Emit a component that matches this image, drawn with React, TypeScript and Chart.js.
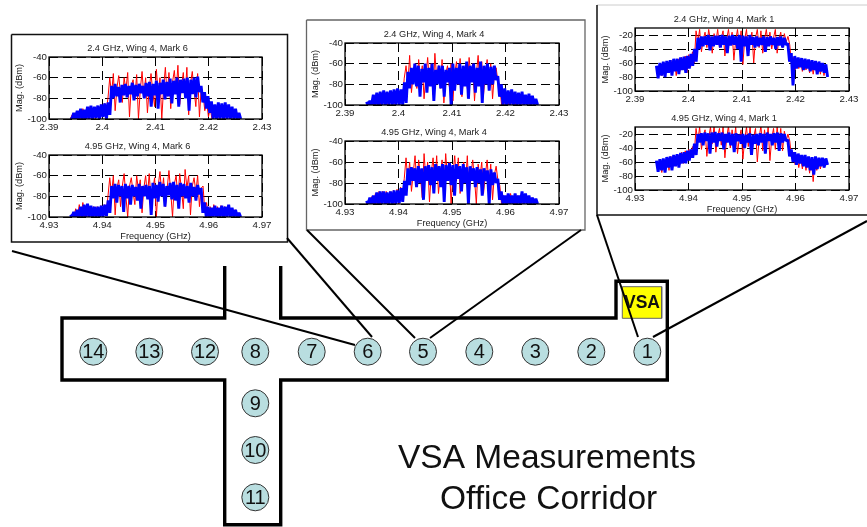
import React, { useEffect, useRef } from "react";
import { Chart, registerables } from "chart.js";

Chart.register(...registerables);

const FONT = "'Liberation Sans', Arial, sans-serif";

const ticks24 = [2.39, 2.4, 2.41, 2.42, 2.43];
const ticks495 = [4.93, 4.94, 4.95, 4.96, 4.97];
const magTicks = [-100, -80, -60, -40];
const magTicksHigh = [-100, -80, -60, -40, -20];

const blueM6a = [-99,-100,-94,-100,-92,-100,-90,-100,-91,-100,-88,-100,-87,-100,-88,-99,-87,-100,-86,-98,-85,-100,-84,-96,
-68,-80,-66,-78,-69,-84,-67,-77,-66,-79,-68,-76,-65,-82,-67,-78,-66,-75,-68,-80,-65,-78,-64,-88,-66,-77,-63,-90,-65,-76,-62,-81,-64,-78,-61,-85,-63,-76,-60,-88,-62,-75,-61,-80,-60,-92,-62,-76,-60,-79,-59,-74,
-68,-84,-74,-90,-78,-94,-83,-100,-86,-100,-84,-100,-85,-100,-84,-100,-86,-100,-88,-100,-90,-100,-94,-100];
const redM6a = [-100,-96,-100,-94,-100,-92,-100,-90,-100,-90,-100,-88,-100,-89,-100,-88,-98,-86,-96,-85,-92,-80,
-60,-76,-56,-92,-70,-58,-76,-84,-60,-72,-55,-98,-68,-62,-80,-57,-100,-72,-54,-78,-60,-94,-70,-56,-74,-88,-52,-76,-60,-100,-70,-50,-78,-55,-90,-64,-53,-74,-48,-86,-68,-55,-78,-50,-96,-66,-54,-72,-88,-56,-98,-70,
-76,-92,-82,-98,-90,-100,-92,-100,-90,-100,-92,-100,-92,-100,-94,-100,-94,-100,-96,-100,-98,-100];
const blueM6b = [-98,-100,-95,-100,-93,-100,-90,-100,-88,-100,-87,-100,-89,-100,-90,-100,-90,-100,-89,-100,-88,-99,-84,-96,
-70,-82,-68,-86,-69,-80,-70,-95,-68,-82,-70,-88,-69,-80,-71,-84,-68,-92,-70,-80,-69,-83,-70,-98,-67,-82,-69,-85,-66,-80,-68,-90,-70,-79,-67,-83,-66,-84,-69,-92,-67,-80,-68,-82,-70,-86,-67,-80,-71,-84,-69,-78,
-72,-96,-86,-100,-90,-100,-91,-100,-89,-100,-91,-100,-89,-100,-90,-100,-88,-100,-91,-100,-93,-100,-96,-100];
const redM6b = [-100,-97,-100,-92,-100,-88,-100,-86,-100,-89,-100,-90,-100,-90,-100,-90,-100,-89,-100,-88,-96,-80,
-62,-78,-60,-98,-72,-64,-90,-70,-58,-80,-100,-70,-62,-76,-88,-60,-74,-64,-96,-72,-60,-80,-58,-84,-74,-62,-100,-70,-56,-78,-62,-90,-72,-55,-76,-100,-68,-60,-82,-58,-74,-92,-54,-72,-60,-98,-70,-62,-76,-60,-90,-72,
-70,-94,-86,-100,-90,-100,-88,-100,-90,-100,-89,-100,-90,-100,-90,-100,-92,-100,-93,-100,-96,-100];
const blueM4a = [-97,-100,-96,-100,-90,-100,-88,-100,-87,-100,-86,-100,-87,-100,-86,-100,-85,-100,-84,-100,-85,-100,-78,-98,
-68,-84,-64,-80,-60,-82,-62,-92,-65,-78,-60,-88,-64,-82,-60,-96,-66,-80,-62,-84,-62,-92,-66,-78,-64,-100,-60,-86,-64,-80,-60,-90,-62,-82,-58,-94,-62,-78,-60,-88,-64,-82,-58,-98,-62,-80,-60,-86,-63,-80,-62,-76,
-72,-92,-80,-100,-84,-100,-86,-100,-85,-100,-87,-100,-88,-100,-87,-100,-90,-100,-89,-100,-91,-100,-94,-100];
const redM4a = [-100,-100,-100,-96,-100,-92,-100,-90,-100,-90,-100,-88,-100,-90,-100,-90,-100,-88,-100,-87,-96,-74,
-62,-80,-52,-88,-70,-60,-84,-56,-76,-62,-94,-72,-54,-80,-60,-90,-50,-74,-62,-84,-56,-98,-70,-62,-82,-60,-96,-70,-58,-80,-55,-92,-72,-62,-84,-54,-74,-60,-96,-70,-52,-80,-58,-90,-70,-56,-82,-60,-94,-70,-64,-78,
-80,-100,-86,-100,-90,-100,-90,-100,-92,-100,-90,-100,-92,-100,-92,-100,-94,-100,-94,-100,-96,-100];
const blueM4b = [-97,-100,-94,-100,-92,-100,-89,-100,-88,-100,-88,-100,-89,-100,-88,-100,-87,-100,-87,-99,-85,-98,-78,-92,
-66,-82,-65,-78,-66,-84,-64,-80,-66,-96,-64,-78,-63,-82,-65,-90,-62,-78,-64,-84,-62,-98,-63,-78,-61,-82,-63,-92,-62,-76,-64,-88,-62,-80,-65,-100,-64,-78,-66,-84,-65,-80,-67,-92,-66,-78,-68,-100,-67,-82,-70,-80,
-76,-96,-88,-100,-92,-100,-90,-100,-92,-100,-90,-100,-92,-100,-88,-100,-90,-100,-92,-100,-94,-100,-95,-100];
const redM4b = [-100,-98,-100,-93,-100,-90,-100,-88,-100,-88,-100,-88,-100,-88,-100,-87,-100,-86,-100,-84,-92,-76,
-56,-78,-60,-88,-70,-54,-82,-58,-74,-94,-52,-76,-60,-98,-70,-56,-80,-54,-90,-72,-58,-84,-52,-76,-60,-100,-72,-54,-78,-56,-90,-68,-60,-80,-54,-92,-72,-58,-76,-100,-62,-74,-60,-90,-72,-58,-82,-62,-96,-72,-64,-78,
-82,-100,-92,-100,-92,-100,-90,-100,-92,-100,-92,-100,-90,-100,-92,-100,-94,-100,-94,-100,-96,-100];
const blueM1a = [-64,-82,-60,-78,-58,-80,-57,-74,-56,-78,-54,-72,-54,-76,-52,-70,-51,-74,-50,-68,-47,-64,-40,-58,
-24,-40,-22,-36,-22,-34,-20,-42,-22,-36,-21,-34,-21,-38,-20,-34,-22,-46,-21,-35,-20,-34,-22,-40,-20,-58,-21,-36,-22,-50,-20,-34,-23,-38,-22,-36,-24,-34,-22,-44,-23,-36,-22,-34,-24,-40,-23,-35,-22,-38,-24,-34,
-32,-58,-46,-92,-50,-68,-52,-66,-53,-70,-54,-68,-55,-72,-56,-70,-57,-76,-58,-72,-60,-74,-62,-80];
const redM1a = [-66,-80,-62,-78,-60,-76,-58,-74,-56,-74,-56,-78,-54,-72,-52,-70,-50,-74,-48,-66,-44,-60,
-14,-30,-12,-44,-26,-16,-38,-12,-28,-46,-18,-30,-12,-38,-24,-14,-50,-26,-12,-34,-16,-56,-28,-12,-36,-14,-62,-26,-12,-44,-28,-16,-60,-24,-12,-38,-14,-46,-26,-12,-34,-16,-40,-24,-12,-46,-26,-16,-38,-18,-30,-22,
-34,-62,-52,-70,-56,-68,-56,-72,-58,-70,-58,-74,-58,-76,-60,-74,-60,-76,-62,-78,-64,-80];
const blueM1b = [-58,-74,-56,-72,-55,-75,-53,-68,-52,-72,-50,-66,-49,-68,-47,-62,-46,-62,-44,-58,-42,-54,-34,-50,
-20,-32,-19,-36,-18,-30,-19,-48,-18,-32,-17,-38,-19,-30,-18,-42,-20,-32,-18,-36,-20,-46,-19,-30,-21,-34,-20,-40,-21,-32,-19,-50,-21,-34,-20,-36,-19,-32,-20,-48,-18,-30,-20,-36,-19,-32,-18,-44,-19,-32,-20,-30,
-28,-52,-42,-60,-46,-64,-48,-62,-50,-66,-50,-68,-52,-72,-53,-78,-52,-70,-54,-66,-54,-68,-55,-64];
const redM1b = [-60,-72,-58,-75,-56,-74,-54,-72,-52,-68,-50,-66,-50,-64,-46,-62,-44,-58,-42,-54,-38,-48,
-12,-30,-10,-42,-24,-14,-52,-26,-10,-34,-8,-46,-24,-12,-36,-10,-54,-26,-8,-40,-14,-34,-10,-48,-26,-14,-56,-28,-10,-38,-8,-50,-24,-12,-60,-26,-8,-44,-14,-36,-10,-58,-26,-12,-42,-10,-36,-12,-44,-16,-30,-20,
-30,-54,-46,-64,-50,-68,-52,-70,-52,-72,-54,-76,-56,-88,-56,-72,-56,-70,-56,-68,-58,-64];

const wallPoints = [[224.7,266],[224.7,318],[62,318],[62,380],[224.7,380],[224.7,524.7],[280.7,524.7],[280.7,380],[667.3,380],[667.3,281.3],[616,281.3],[616,318],[280.7,318],[280.7,266]];
const leaderLines = [
  [[12,251],[355,345]],
  [[287,238],[372,337]],
  [[307,230],[415,338]],
  [[581,230],[430,338]],
  [[597,215],[638,337]],
  [[867,221],[653,337]],
];
const panelDark = [
  [[11.5,34.5],[287.5,34.5],[287.5,242],[11.5,242],[11.5,34.5]],
  [[597,5],[597,215],[880,215]],
];
const panelGrey = [
  [[306.5,20],[585,20],[585,230],[306.5,230],[306.5,20]],
];
const panelFaint = [[[597,5],[880,5]]];
const markerLabels = ["14","13","12","8","7","6","5","4","3","2","1","9","10","11"];
const markerX = [93.3,149.3,205,255.3,311.7,367.7,423,479.3,535.3,591.3,647.3,255.3,255.3,255.3];
const markerY = [351.7,351.7,351.7,351.7,351.7,351.7,351.7,351.7,351.7,351.7,351.7,403.3,450,497.3];
const vsaBox = [[622.3,286.7],[661.7,286.7],[661.7,318.3],[622.3,318.3],[622.3,286.7]];

const toXY = (pts: number[][]) => pts.map(([x, y]) => ({ x, y }));

function FloorPlan() {
  const ref = useRef<HTMLCanvasElement>(null);
  useEffect(() => {
    const labelPlugin = {
      id: "labels",
      afterDatasetsDraw(c: any) {
        const { ctx, scales } = c;
        const px = (v: number) => scales.x.getPixelForValue(v);
        const py = (v: number) => scales.y.getPixelForValue(v);
        ctx.save();
        ctx.fillStyle = "#111";
        ctx.textAlign = "center";
        ctx.textBaseline = "middle";
        ctx.font = `20px ${FONT}`;
        markerLabels.forEach((t, i) => ctx.fillText(t, px(markerX[i]), py(markerY[i]) + 1));
        ctx.font = `bold 17.5px ${FONT}`;
        ctx.fillText("VSA", px(642), py(303));
        ctx.textBaseline = "alphabetic";
        ctx.textAlign = "left";
        ctx.font = `33.5px ${FONT}`;
        ctx.fillText("VSA Measurements", px(398), py(468));
        ctx.fillText("Office Corridor", px(440), py(509));
        ctx.restore();
      },
    };
    const line = (pts: number[][], color: string, w: number, fill?: string) => ({
      type: "line", data: toXY(pts), borderColor: color, borderWidth: w, pointRadius: 0,
      tension: 0, fill: fill ? "shape" : false, backgroundColor: fill || "transparent", borderJoinStyle: "miter",
    });
    const chart = new Chart(ref.current!, {
      type: "line",
      data: {
        datasets: [
          ...leaderLines.map((l) => line(l, "#000", 2)),
          ...panelDark.map((b) => line(b, "#111", 1.5)),
          ...panelGrey.map((b) => line(b, "#666", 1.3)),
          ...panelFaint.map((b) => line(b, "#ccc", 1)),
          line(wallPoints, "#000", 3.4),
          line(vsaBox, "#666", 1, "#ffff00"),
          {
            type: "scatter",
            data: markerX.map((x, i) => ({ x, y: markerY[i] })),
            pointRadius: 13.5, pointBackgroundColor: "#b9dee0", pointBorderColor: "#333", pointBorderWidth: 1,
            showLine: false,
          },
        ] as any,
      },
      options: {
        responsive: false, animation: false, events: [],
        layout: { padding: 0, autoPadding: false },
        plugins: { legend: { display: false }, title: { display: false }, tooltip: { enabled: false } },
        scales: {
          x: { type: "linear", display: false, min: 0, max: 867 },
          y: { type: "linear", display: false, min: 0, max: 527, reverse: true },
        },
      },
      plugins: [labelPlugin],
    } as any);
    return () => chart.destroy();
  }, []);
  return <canvas ref={ref} width={867} height={527} style={{ position: "absolute", left: 0, top: 0, width: 867, height: 527 }} />;
}

type SpecProps = {
  title: string; blue: number[]; red: number[]; start: number; xTicks: number[]; yTicks: number[]; yMax: number;
  left: number; top: number; w: number; h: number; xTitle?: boolean;
};

function Spectrum({ title, blue, red, start, xTicks, yTicks, yMax, left, top, w, h, xTitle }: SpecProps) {
  const ref = useRef<HTMLCanvasElement>(null);
  const mL = 36, mT = 15, mR = 14, mB = xTitle ? 26 : 14;
  useEffect(() => {
    const series = (vals: number[]) => vals.map((y, i) => ({ x: start + (0.032 * i) / (vals.length - 1), y }));
    const boxPlugin = {
      id: "box",
      afterDatasetsDraw(c: any) {
        const { ctx, chartArea: a } = c;
        ctx.save();
        ctx.strokeStyle = "#000";
        ctx.lineWidth = 1.3;
        ctx.strokeRect(a.left, a.top, a.right - a.left, a.bottom - a.top);
        ctx.restore();
      },
    };
    const tickFont = { family: FONT, size: 9.7 };
    const titleFont = { family: FONT, size: 9.2, weight: "normal", lineHeight: "10px" };
    const chart = new Chart(ref.current!, {
      type: "line",
      data: {
        datasets: [
          { data: series(blue), borderColor: "#0000ff", borderWidth: 2.9, pointRadius: 0, tension: 0, borderJoinStyle: "bevel" },
          { data: series(red), borderColor: "#ff0000", borderWidth: 1, pointRadius: 0, tension: 0, borderJoinStyle: "bevel" },
        ],
      },
      options: {
        responsive: false, animation: false, events: [],
        layout: { padding: { right: mR, left: 0, top: 0, bottom: 0 }, autoPadding: false },
        plugins: {
          legend: { display: false }, tooltip: { enabled: false },
          title: { display: true, text: title, color: "#222", font: titleFont, padding: { top: 1, bottom: 4 } },
        },
        scales: {
          x: {
            type: "linear", min: xTicks[0], max: xTicks[xTicks.length - 1],
            afterBuildTicks: (s: any) => { s.ticks = xTicks.map((value) => ({ value })); },
            afterFit: (s: any) => { s.height = mB; },
            grid: { color: "#000", lineWidth: 1, drawTicks: false },
            border: { display: false, dash: [9, 5] },
            ticks: { autoSkip: false, maxRotation: 0, padding: 3, color: "#222", font: tickFont, callback: (v: any) => String(+Number(v).toFixed(2)) },
            title: { display: !!xTitle, text: "Frequency (GHz)", color: "#222", font: titleFont, padding: { top: 0, bottom: 2 } },
          },
          y: {
            type: "linear", min: -100, max: yMax,
            afterBuildTicks: (s: any) => { s.ticks = yTicks.map((value) => ({ value })); },
            afterFit: (s: any) => { s.width = mL; },
            grid: { color: "#000", lineWidth: 1, drawTicks: false },
            border: { display: false, dash: [9, 5] },
            ticks: { autoSkip: false, padding: 2, color: "#222", font: tickFont },
            title: { display: true, text: "Mag. (dBm)", color: "#222", font: titleFont, padding: { top: 1, bottom: 0 } },
          },
        },
      },
      plugins: [boxPlugin],
    } as any);
    return () => chart.destroy();
  }, []);
  const cw = w + mL + mR, ch = h + mT + mB;
  return <canvas ref={ref} width={cw} height={ch} style={{ position: "absolute", left: left - mL, top: top - mT, width: cw, height: ch }} />;
}

export default function App() {
  return (
    <div style={{ position: "fixed", left: 0, top: 0, width: 867, height: 527, overflow: "hidden", background: "#fff" }}>
      <FloorPlan />
      <Spectrum title="2.4 GHz, Wing 4, Mark 6" blue={blueM6a} red={redM6a} start={2.394} xTicks={ticks24} yTicks={magTicks} yMax={-40} left={49} top={57} w={213} h={62} />
      <Spectrum title="4.95 GHz, Wing 4, Mark 6" blue={blueM6b} red={redM6b} start={4.934} xTicks={ticks495} yTicks={magTicks} yMax={-40} left={49} top={155} w={213} h={62} xTitle />
      <Spectrum title="2.4 GHz, Wing 4, Mark 4" blue={blueM4a} red={redM4a} start={2.394} xTicks={ticks24} yTicks={magTicks} yMax={-40} left={345} top={43} w={214} h={62} />
      <Spectrum title="4.95 GHz, Wing 4, Mark 4" blue={blueM4b} red={redM4b} start={4.934} xTicks={ticks495} yTicks={magTicks} yMax={-40} left={345} top={141} w={214} h={63} xTitle />
      <Spectrum title="2.4 GHz, Wing 4, Mark 1" blue={blueM1a} red={redM1a} start={2.394} xTicks={ticks24} yTicks={magTicksHigh} yMax={-10} left={635} top={28} w={214} h={63} />
      <Spectrum title="4.95 GHz, Wing 4, Mark 1" blue={blueM1b} red={redM1b} start={4.934} xTicks={ticks495} yTicks={magTicksHigh} yMax={-10} left={635} top={127} w={214} h={63} xTitle />
    </div>
  );
}
